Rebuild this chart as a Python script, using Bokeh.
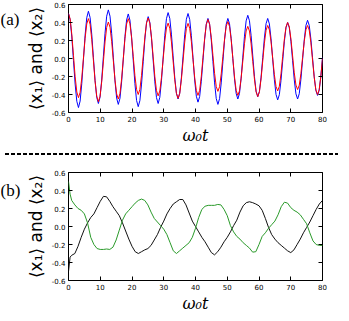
from bokeh.plotting import figure
from bokeh.models import (Range1d, LinearAxis, FixedTicker, NumeralTickFormatter,
                          CustomJSTickFormatter, Label, Div)
from bokeh.layouts import column, row
from bokeh.embed import file_html
from bokeh.resources import INLINE

# ---------------- panel (a): <x1> (blue) and <x2> (red), sampled every 80/153 ----------------
T_STEP_A = 80 / 153
x1_a = [
    0.50, 0.43, 0.239, -0.023, -0.284, -0.475,
    -0.545, -0.473, -0.278, -0.01, 0.258, 0.453,
    0.525, 0.456, 0.269, 0.013, -0.244, -0.431,
    -0.50, -0.43, -0.24, 0.02, 0.28, 0.47,
    0.54, 0.47, 0.278, 0.015, -0.248, -0.44,
    -0.51, -0.443, -0.259, -0.008, 0.244, 0.428,
    0.495, 0.426, 0.238, -0.02, -0.278, -0.466,
    -0.535, -0.468, -0.285, -0.035, 0.215, 0.398,
    0.465, 0.40, 0.224, -0.018, -0.259, -0.435,
    -0.50, -0.432, -0.248, 0.005, 0.258, 0.442,
    0.51, 0.446, 0.27, 0.03, -0.21, -0.386,
    -0.45, -0.386, -0.213, 0.025, 0.263, 0.436,
    0.50, 0.434, 0.254, 0.008, -0.239, -0.419,
    -0.485, -0.423, -0.253, -0.02, 0.213, 0.383,
    0.445, 0.381, 0.206, -0.033, -0.271, -0.446,
    -0.51, -0.446, -0.271, -0.033, 0.206, 0.381,
    0.445, 0.385, 0.221, -0.003, -0.226, -0.39,
    -0.45, -0.388, -0.218, 0.015, 0.248, 0.418,
    0.48, 0.419, 0.254, 0.028, -0.199, -0.364,
    -0.425, -0.367, -0.208, 0.01, 0.228, 0.387,
    0.445, 0.384, 0.219, -0.008, -0.234, -0.399,
    -0.46, -0.402, -0.245, -0.03, 0.185, 0.342,
    0.40, 0.343, 0.188, -0.025, -0.238, -0.393,
    -0.45, -0.391, -0.231, -0.013, 0.206, 0.366,
    0.425, 0.369, 0.216, 0.008, -0.201, -0.354,
    -0.41, -0.354, -0.20, 0.01,
]
x2_a = [
    0.50, 0.437, 0.266, 0.033, -0.201, -0.372,
    -0.435, -0.376, -0.216, 0.004, 0.224, 0.384,
    0.443, 0.381, 0.212, -0.019, -0.249, -0.418,
    -0.48, -0.421, -0.259, -0.038, 0.184, 0.346,
    0.405, 0.348, 0.191, -0.023, -0.236, -0.393,
    -0.45, -0.39, -0.227, -0.004, 0.22, 0.383,
    0.443, 0.387, 0.232, 0.022, -0.189, -0.344,
    -0.40, -0.343, -0.188, 0.025, 0.238, 0.393,
    0.45, 0.392, 0.234, 0.018, -0.199, -0.357,
    -0.415, -0.361, -0.213, -0.011, 0.191, 0.339,
    0.393, 0.337, 0.184, -0.025, -0.234, -0.387,
    -0.443, -0.387, -0.235, -0.027, 0.182, 0.334,
    0.39, 0.336, 0.19, -0.01, -0.21, -0.356,
    -0.41, -0.354, -0.199, 0.012, 0.222, 0.377,
    0.433, 0.38, 0.234, 0.034, -0.166, -0.312,
    -0.365, -0.313, -0.171, 0.023, 0.216, 0.358,
    0.41, 0.355, 0.205, 0.0, -0.205, -0.355,
    -0.41, -0.359, -0.218, -0.027, 0.165, 0.306,
    0.357, 0.305, 0.162, -0.033, -0.228, -0.371,
    -0.423, -0.37, -0.226, -0.028, 0.17, 0.314,
    0.367, 0.318, 0.185, 0.004, -0.178, -0.311,
    -0.36, -0.309, -0.17, 0.02, 0.21, 0.349,
    0.40, 0.35, 0.214, 0.028, -0.159, -0.295,
    -0.345, -0.297, -0.167, 0.011, 0.189, 0.319,
    0.367, 0.316, 0.175, -0.017, -0.208, -0.349,
    -0.40, -0.346, -0.20, 0.0,
]
t_a = [i * T_STEP_A for i in range(len(x1_a))]

# ---------------- panel (b): <x1> (black) and <x2> (green) ----------------
t_b = [0, 0.5, 1, 2, 3, 4, 5, 6, 7, 8, 9, 10, 11, 12, 13, 14, 15, 16, 17, 18, 19, 20,
       21, 22, 23, 24, 25, 26, 27, 28, 29, 30, 31, 32, 33, 34, 35, 36, 37, 38, 39, 40,
       41, 42, 43, 44, 45, 46, 47, 48, 49, 50, 51, 52, 53, 54, 55, 56, 57, 58, 59, 60,
       61, 62, 63, 64, 65, 66, 67, 68, 69, 70, 71, 72, 73, 74, 75, 76, 77, 78, 79, 80]
x1_b = [-0.50, -0.34, -0.32, -0.30, -0.22, -0.12, -0.03, 0.04, 0.10, 0.14, 0.21,
        0.28, 0.335, 0.33, 0.28, 0.22, 0.17, 0.12, 0.04, -0.05, -0.14, -0.22,
        -0.28, -0.30, -0.28, -0.26, -0.245, -0.21, -0.15, -0.09, -0.01, 0.06,
        0.14, 0.20, 0.25, 0.275, 0.30, 0.30, 0.24, 0.15, 0.06, 0.0,
        -0.06, -0.12, -0.17, -0.23, -0.29, -0.315, -0.28, -0.23, -0.17, -0.12,
        -0.06, 0.01, 0.07, 0.16, 0.23, 0.265, 0.275, 0.265, 0.25, 0.23,
        0.18, 0.09, -0.01, -0.09, -0.14, -0.18, -0.21, -0.24, -0.27, -0.29,
        -0.26, -0.20, -0.14, -0.07, -0.01, 0.05, 0.12, 0.19, 0.25, 0.29]
x2_b = [0.50, 0.36, 0.29, 0.24, 0.20, 0.18, 0.14, 0.04, -0.12, -0.20, -0.245,
        -0.255, -0.255, -0.25, -0.255, -0.23, -0.15, -0.04, 0.07, 0.14, 0.18, 0.22,
        0.26, 0.29, 0.305, 0.29, 0.24, 0.16, 0.09, 0.05, 0.01, -0.03,
        -0.09, -0.18, -0.27, -0.30, -0.27, -0.24, -0.21, -0.18, -0.12, -0.02,
        0.10, 0.19, 0.225, 0.235, 0.235, 0.235, 0.245, 0.24, 0.19, 0.12,
        0.01, -0.06, -0.11, -0.14, -0.18, -0.21, -0.24, -0.285, -0.28, -0.20,
        -0.11, -0.07, -0.02, 0.02, 0.06, 0.13, 0.22, 0.27, 0.26, 0.21,
        0.18, 0.16, 0.13, 0.08, 0.03, -0.07, -0.16, -0.20, -0.21, -0.21]

x_ticks = [0, 10, 20, 30, 40, 50, 60, 70, 80]
y_ticks = [-0.6, -0.4, -0.2, 0.0, 0.2, 0.4, 0.6]
y_label = "⟨x₁⟩ and ⟨x₂⟩"
x_label = "ω₀t"

TAG_W = 22
MAIN_W = 311
BORDER_LEFT = 41
BORDER_RIGHT = 11
PANEL_H = 147
BORDER_TOP = 4
BORDER_BOTTOM = 33
SEP_H = 11


def make_panel():
    p = figure(width=MAIN_W, height=PANEL_H, x_range=Range1d(0, 80), y_range=Range1d(-0.6, 0.6),
               output_backend="svg", toolbar_location=None,
               min_border_left=BORDER_LEFT, min_border_right=BORDER_RIGHT,
               min_border_top=BORDER_TOP, min_border_bottom=BORDER_BOTTOM)
    p.grid.visible = False
    p.outline_line_color = "black"
    p.outline_line_alpha = 1
    p.outline_line_width = 1
    p.background_fill_color = "white"
    p.border_fill_color = "white"

    for ax, ticks in ((p.xaxis[0], x_ticks), (p.yaxis[0], y_ticks)):
        ax.ticker = FixedTicker(ticks=ticks)
        ax.major_tick_in = 4
        ax.major_tick_out = 0
        ax.minor_tick_line_color = None
        ax.axis_line_color = None
        ax.major_tick_line_color = "black"
        ax.major_label_text_font = "DejaVu Sans"
        ax.major_label_text_font_size = "7px"
        ax.major_label_text_color = "black"
    p.xaxis.major_label_standoff = 3
    p.yaxis.major_label_standoff = 3
    p.yaxis.formatter = NumeralTickFormatter(format="0.0")

    p.xaxis.axis_label = x_label
    p.xaxis.axis_label_text_font = "DejaVu Serif"
    p.xaxis.axis_label_text_font_style = "italic"
    p.xaxis.axis_label_text_font_size = "16px"
    p.xaxis.axis_label_standoff = 1
    p.xaxis.axis_label_text_color = "black"

    p.yaxis.axis_label = y_label
    p.yaxis.axis_label_text_font = "DejaVu Sans"
    p.yaxis.axis_label_text_font_style = "normal"
    p.yaxis.axis_label_text_font_size = "17px"
    p.yaxis.axis_label_standoff = 3
    p.yaxis.axis_label_text_color = "black"

    empty = CustomJSTickFormatter(code="return ''")
    for loc, ticks in (("above", x_ticks), ("right", y_ticks)):
        ax = LinearAxis(ticker=FixedTicker(ticks=ticks), formatter=empty,
                        major_tick_in=4, major_tick_out=0, minor_tick_line_color=None,
                        axis_line_color=None, major_label_standoff=0,
                        major_label_text_font_size="0px", major_tick_line_color="black")
        p.add_layout(ax, loc)
    return p


def make_tag(text, drop):
    t = figure(width=TAG_W, height=PANEL_H, x_range=Range1d(0, 1), y_range=Range1d(0, 1),
               output_backend="svg", toolbar_location=None,
               min_border_left=0, min_border_right=0,
               min_border_top=BORDER_TOP, min_border_bottom=BORDER_BOTTOM)
    t.axis.visible = False
    t.grid.visible = False
    t.outline_line_color = None
    t.add_layout(Label(x=0, y=1, x_units="data", y_units="data", text=text,
                       y_offset=-drop,
                       text_font="Liberation Serif", text_font_size="17px", text_color="black",
                       text_baseline="top", text_align="left"))
    return t


pa = make_panel()
pa.line(t_a, x1_a, line_color="#0000ff", line_width=1)
pa.line(t_a, x2_a, line_color="#ff0000", line_width=1)

pb = make_panel()
pb.line(t_b, x1_b, line_color="#111111", line_width=1)
pb.line(t_b, x2_b, line_color="#2a9a2a", line_width=1)

sep = Div(text="", width=TAG_W + MAIN_W, height=SEP_H,
          styles={"background-image": "repeating-linear-gradient(to right, #000 0px, #000 4px, transparent 4px, transparent 6px)",
                  "background-size": "100% 2px", "background-repeat": "no-repeat",
                  "background-position": "0px 1px", "overflow": "hidden"})

layout = column(row(make_tag("(a)", 5), pa, spacing=0),
                sep,
                row(make_tag("(b)", 8), pb, spacing=0),
                spacing=0)
open("out.html", "w").write(file_html(layout, INLINE))
